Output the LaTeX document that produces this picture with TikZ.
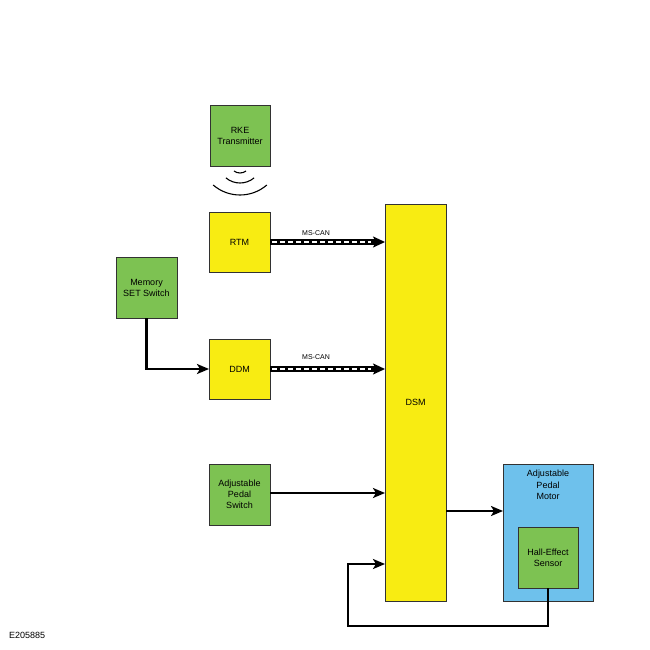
\documentclass[tikz,border=0pt]{standalone}
\usepackage{fontspec}
\setmainfont{Liberation Sans}
\usetikzlibrary{arrows.meta}
\definecolor{bgreen}{RGB}{125,194,82}
\definecolor{byellow}{RGB}{248,236,18}
\definecolor{bblue}{RGB}{110,193,236}
\definecolor{edge}{RGB}{50,50,50}
\begin{document}
\begin{tikzpicture}[x=1pt,y=-1pt,
  blk/.style={draw=edge,line width=1pt,inner sep=0pt,outer sep=0pt,align=center,font=\fontsize{9}{11}\selectfont},
  gbox/.style={blk,fill=bgreen,minimum width=61pt,minimum height=61pt},
  ybox/.style={blk,fill=byellow,minimum width=61pt,minimum height=60pt},
  conn/.style={line width=2.8pt,-{Stealth[length=12pt,width=10pt,inset=3pt]}},
  bus/.style={line width=5.5pt,-{Stealth[length=12pt,width=11pt,inset=3pt]}},
  busdash/.style={white,line width=1.6pt,dash pattern=on 5pt off 3pt},
  lbl/.style={font=\fontsize{7}{8}\selectfont,inner sep=0pt}]
\useasboundingbox (0,0) rectangle (650,650);
\fill[white] (0,0) rectangle (650,650);

\node[gbox,minimum width=60pt,minimum height=60pt] (rke) at (240,136) {RKE\\Transmitter};
\node[ybox] (rtm) at (239.5,242) {RTM};
\node[gbox] (mem) at (146.5,287.5) {Memory\\SET Switch};
\node[ybox] (ddm) at (239.5,369) {DDM};
\node[gbox] (aps) at (239.5,494.5) {Adjustable\\Pedal\\Switch};
\node[blk,fill=byellow,minimum width=61pt,minimum height=397pt] (dsm) at (415.5,402.5) {DSM};
\node[blk,fill=bblue,minimum width=90pt,minimum height=137pt] (apm) at (548,532.5) {};
\node[align=center,font=\fontsize{9}{11.5}\selectfont,anchor=north,inner sep=0pt] (apmt) at (548,470) {Adjustable\\Pedal\\Motor};
\node[gbox,minimum width=60pt] (hall) at (548,557.5) {Hall-Effect\\Sensor};

% radio waves
\draw[line width=1.1pt] (240,163) ++(53:10) arc[start angle=53,end angle=127,radius=10];
\draw[line width=1.1pt] (240,161) ++(50:22) arc[start angle=50,end angle=130,radius=22];
\draw[line width=1.1pt] (240,154) ++(49:41) arc[start angle=49,end angle=131,radius=41];

% MS-CAN buses
\draw[bus] (rtm.east) -- (rtm.east -| dsm.west);
\draw[busdash] ([xshift=2pt]rtm.east) -- ([xshift=-14pt]rtm.east -| dsm.west);
\node[lbl] (can1) at (316,233) {MS-CAN};
\draw[bus] (ddm.east) -- (ddm.east -| dsm.west);
\draw[busdash] ([xshift=2pt]ddm.east) -- ([xshift=-14pt]ddm.east -| dsm.west);
\node[lbl] (can2) at (316,357) {MS-CAN};

% connectors
\draw[conn] (mem.south) |- (ddm.west);
\draw[conn] ([yshift=1.5pt]aps.east) -- ([yshift=1.5pt]aps.east -| dsm.west);
\draw[conn] ([yshift=-108.5pt]dsm.east) -- ([yshift=-108.5pt]dsm.east -| apm.west);
\coordinate (fbc) at (348,626);
\draw[conn] (hall.south) |- (fbc) |- ([yshift=-161.5pt]dsm.west);

\node[font=\fontsize{9}{11}\selectfont,anchor=west,inner sep=0pt] (code) at (9,635) {E205885};
\end{tikzpicture}
\end{document}
